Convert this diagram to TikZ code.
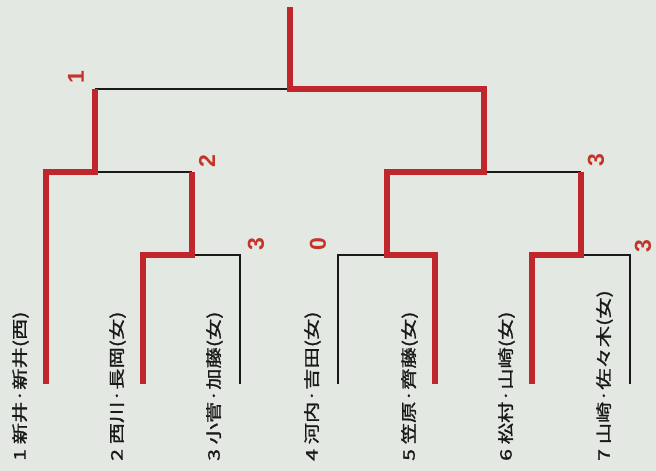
\documentclass[tikz,border=0pt]{standalone}
\usepackage{graphicx}
\usepackage{fontspec}
\newfontfamily\jpfont[FakeBold=1.2]{Noto Sans CJK JP}
\newfontfamily\scorefont{Liberation Sans}
\definecolor{bg}{RGB}{227,233,226}
\definecolor{win}{RGB}{192,38,44}
\definecolor{sc}{RGB}{196,52,40}
\definecolor{ln}{RGB}{25,25,25}
\newcommand{\flattxt}[1]{\scalebox{1.33}[1]{#1}}
\begin{document}
\begin{tikzpicture}[x=1pt,y=1pt,
  loser/.style={draw=ln, line width=1.4pt},
  winner/.style={draw=win, line width=6pt, line join=miter},
  score/.style={text=sc, font=\scorefont\bfseries\fontsize{23}{23}\selectfont, rotate=90, inner sep=0pt},
  pname/.style={font=\jpfont\fontsize{16}{16}\selectfont, rotate=90, anchor=west, inner sep=0pt, text=ln}]
\fill[bg] (0,0) rectangle (656,471);
\useasboundingbox (0,0) rectangle (656,471);
% leaves
\coordinate (p1b) at (46,87);    \coordinate (p1t) at (46,299);
\coordinate (p2b) at (143,87);   \coordinate (p2t) at (143,216);
\coordinate (p3b) at (240,87);   \coordinate (p3t) at (240,216);
\coordinate (p4b) at (338,87);   \coordinate (p4t) at (338,216);
\coordinate (p5b) at (435,87);   \coordinate (p5t) at (435,216);
\coordinate (p6b) at (532,87);   \coordinate (p6t) at (532,216);
\coordinate (p7b) at (630,87);   \coordinate (p7t) at (630,216);
% junctions
\coordinate (m23) at (191.5,216);  \coordinate (m23t) at (191.5,299);
\coordinate (m123) at (95,299);    \coordinate (m123t) at (95,382);
\coordinate (m45) at (386.5,216);  \coordinate (m45t) at (386.5,299);
\coordinate (m67) at (581,216);    \coordinate (m67t) at (581,299);
\coordinate (m4567) at (484,299);  \coordinate (m4567t) at (484,382);
\coordinate (f) at (289.5,382);    \coordinate (ft) at (289.5,464);
% losing lines
\draw[loser] (m123) -- (m23t);
\draw[loser] (m23) -- (p3t) -- (p3b);
\draw[loser] (m123t) -- (f);
\draw[loser] (p4b) -- (p4t) -- (m45);
\draw[loser] (m4567) -- (m67t);
\draw[loser] (m67) -- (p7t) -- (p7b);
% winning lines
\draw[winner] (p1b) -- (p1t) -- (m123) -- (m123t);
\draw[winner] (p2b) -- (p2t) -- (m23) -- (m23t);
\draw[winner] (ft) -- (f) -- (m4567t) -- (m4567) -- (m45t) -- (m45) -- (p5t) -- (p5b);
\draw[winner] (p6b) -- (p6t) -- (m67) -- (m67t);
% scores
\node[score] (s1) at (76,394) {1};
\node[score] (s2) at (207,310) {2};
\node[score] (s3) at (256,227) {3};
\node[score] (s4) at (318,227) {0};
\node[score] (s5) at (596,311) {3};
\node[score] (s6) at (643,225) {3};
% names
\node[pname] (n1) at (20.5,10) {\flattxt{1 新井·新井(西)}};
\node[pname] (n2) at (117.5,10) {\flattxt{2 西川·長岡(女)}};
\node[pname] (n3) at (214.5,10) {\flattxt{3 小菅·加藤(女)}};
\node[pname] (n4) at (312.5,10) {\flattxt{4 河内·吉田(女)}};
\node[pname] (n5) at (409.5,10) {\flattxt{5 笠原·齊藤(女)}};
\node[pname] (n6) at (506.5,10) {\flattxt{6 松村·山崎(女)}};
\node[pname] (n7) at (604.5,10) {\flattxt{7 山崎·佐々木(女)}};
\end{tikzpicture}
\end{document}
